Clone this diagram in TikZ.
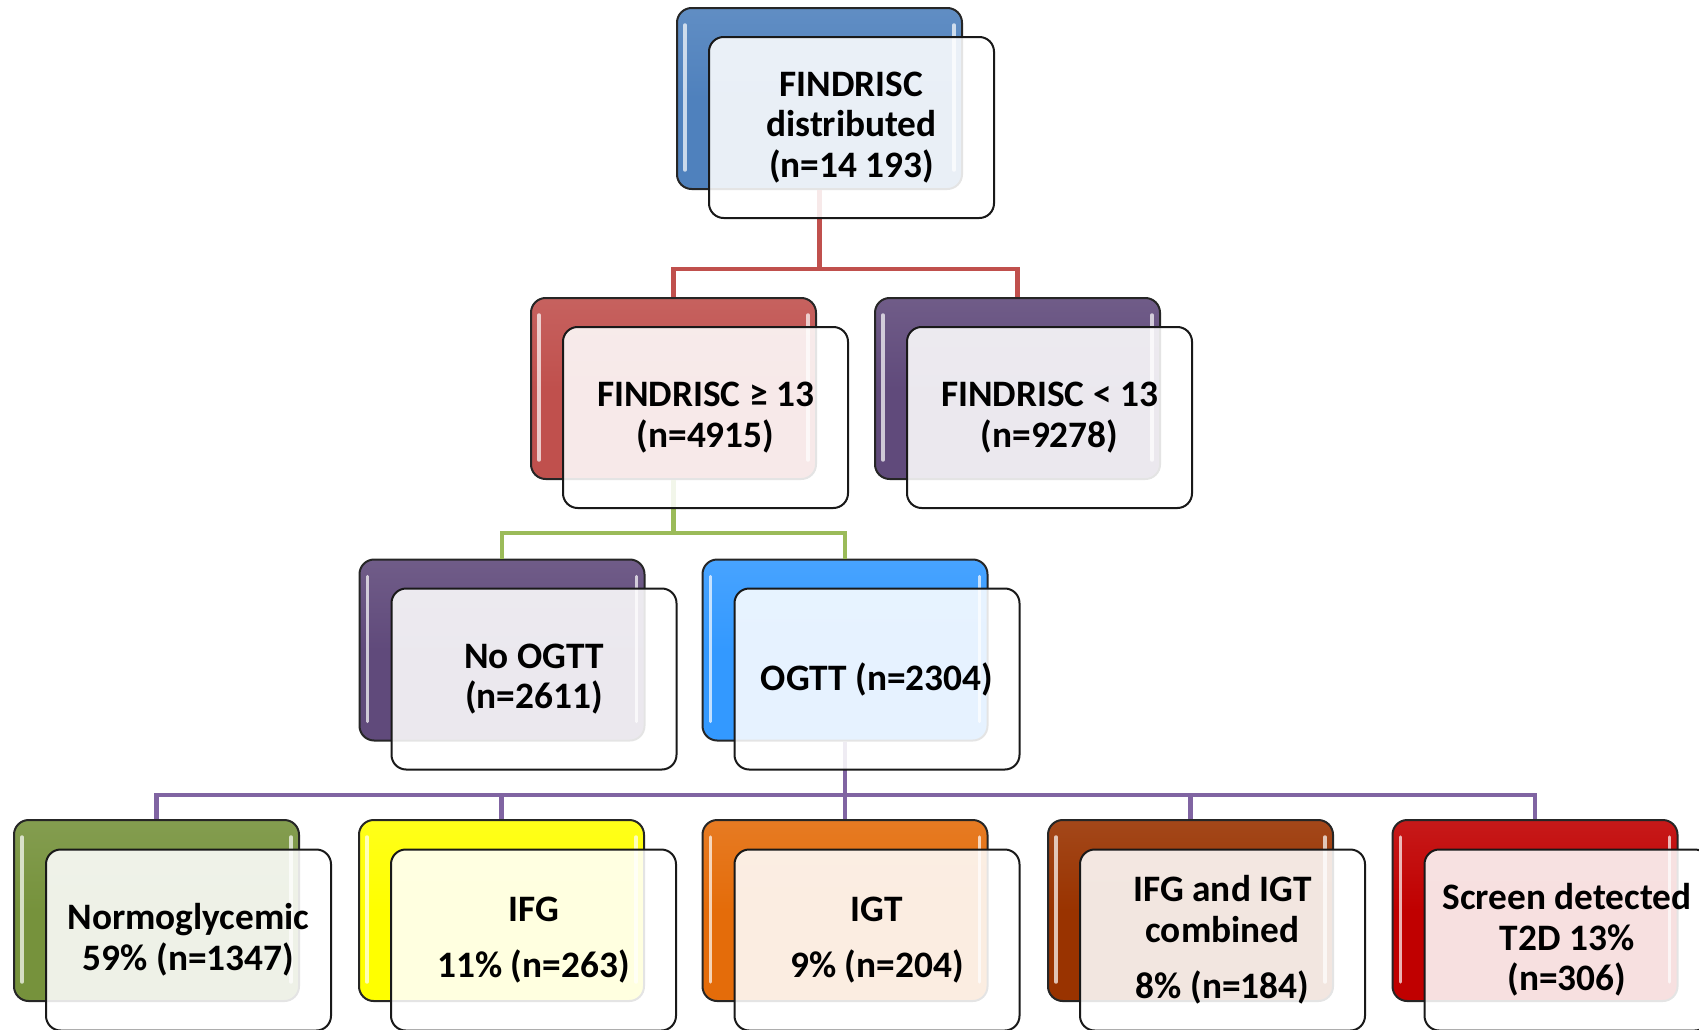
\documentclass[tikz,border=0pt]{standalone}
\usepackage{fontspec}
\setmainfont{Carlito}
\usetikzlibrary{calc}
\definecolor{cTop}{HTML}{4F81BD}
\definecolor{cRed}{HTML}{C0504D}
\definecolor{cPurp}{HTML}{604A7B}
\definecolor{cOgtt}{HTML}{3399FF}
\definecolor{cGreen}{HTML}{76923C}
\definecolor{cYellow}{HTML}{FFFF00}
\definecolor{cOrange}{HTML}{E46C0A}
\definecolor{cBrown}{HTML}{993300}
\definecolor{cT2D}{HTML}{C00000}
\definecolor{lRed}{HTML}{C0504D}
\definecolor{lGreen}{HTML}{9BBB59}
\definecolor{lPurp}{HTML}{8064A2}
\tikzset{
  backbox/.style={draw=black!85, line width=1.5pt, rounded corners=11pt,
    minimum width=213.75pt, minimum height=135.75pt, inner sep=0pt,
    top color=#1!90!white, bottom color=#1, middle color=#1},
  frontbox/.style={draw=black!90, line width=1.5pt, rounded corners=11pt,
    fill=white, fill opacity=0.88, text opacity=1,
    minimum width=213.75pt, minimum height=135.75pt, inner sep=0pt,
    align=center, font=\fontsize{28}{30.5}\selectfont\bfseries},
  conn/.style={line width=3.4pt},
  gloss/.style={white, opacity=0.7, line width=2.6pt, line cap=round},
}
\newcommand\glossbox[1]{%
  \draw[gloss] ($(#1.north west)+(9,18)$) -- ($(#1.south west)+(9,-20)$);
  \draw[gloss] ($(#1.north east)+(-9,18)$) -- ($(#1.south east)+(-9,-20)$);}
\begin{document}
\begin{tikzpicture}[x=0.75pt,y=-0.75pt]
\useasboundingbox (0,0) rectangle (1699,1029);
\clip (0,0) rectangle (1699,1029);
% back boxes
\node[backbox=cTop] (b1) at (819.5,98.5) {};
\node[backbox=cRed] (b2a) at (673.5,388.5) {};
\node[backbox=cPurp] (b2b) at (1017.5,388.5) {};
\node[backbox=cPurp] (b3a) at (502,650) {};
\node[backbox=cOgtt] (b3b) at (845,650) {};
\node[backbox=cGreen] (b4a) at (156.5,910.5) {};
\node[backbox=cYellow] (b4b) at (501.5,910.5) {};
\node[backbox=cOrange] (b4c) at (845,910.5) {};
\node[backbox=cBrown] (b4d) at (1190.5,910.5) {};
\node[backbox=cT2D] (b4e) at (1535,910.5) {};
\foreach \n in {b1,b2a,b2b,b3a,b3b,b4a,b4b,b4c,b4d,b4e}{\glossbox{\n}}
% connector junctions
\coordinate (jr) at (819.5,269);
\coordinate (jg) at (673.5,533);
\coordinate (jp) at (845,795);
% connectors
\draw[conn,lRed] (b1.south) -- (jr);
\draw[conn,lRed] (b2a.north) |- (jr) -| (b2b.north);
\draw[conn,lGreen] (b2a.south) -- (jg);
\draw[conn,lGreen] (b3a.north) |- (jg) -| (b3b.north);
\draw[conn,lPurp] (b3b.south) -- (jp);
\draw[conn,lPurp] (b4a.north) |- (jp) -| (b4e.north);
\draw[conn,lPurp] (b4b.north) -- (b4b.north |- jp);
\draw[conn,lPurp] (b4c.north) -- (jp);
\draw[conn,lPurp] (b4d.north) -- (b4d.north |- jp);
% front boxes
\node[frontbox] (f1) at (851.5,127.5) {FINDRISC\\distributed\\(n=14 193)};
\node[frontbox] (f2a) at (705.5,417.5) {FINDRISC ≥ 13\\(n=4915)};
\node[frontbox] (f2b) at (1049.5,417.5) {FINDRISC < 13\\(n=9278)};
\node[frontbox] (f3a) at (534,679) {No OGTT\\(n=2611)};
\node[frontbox] (f3b) at (877,679) {OGTT (n=2304)};
\node[frontbox] (f4a) at (188.5,940) {Normoglycemic\\59\% (n=1347)};
\node[frontbox] (f4b) at (533.5,940) {IFG\\[12pt]11\% (n=263)};
\node[frontbox] (f4c) at (877,940) {IGT\\[12pt]9\% (n=204)};
\node[frontbox] (f4d) at (1222.5,940) {IFG and IGT\\combined\\[12pt]8\% (n=184)};
\node[frontbox] (f4e) at (1567,940) {Screen detected\\T2D 13\%\\(n=306)};
\end{tikzpicture}
\end{document}
